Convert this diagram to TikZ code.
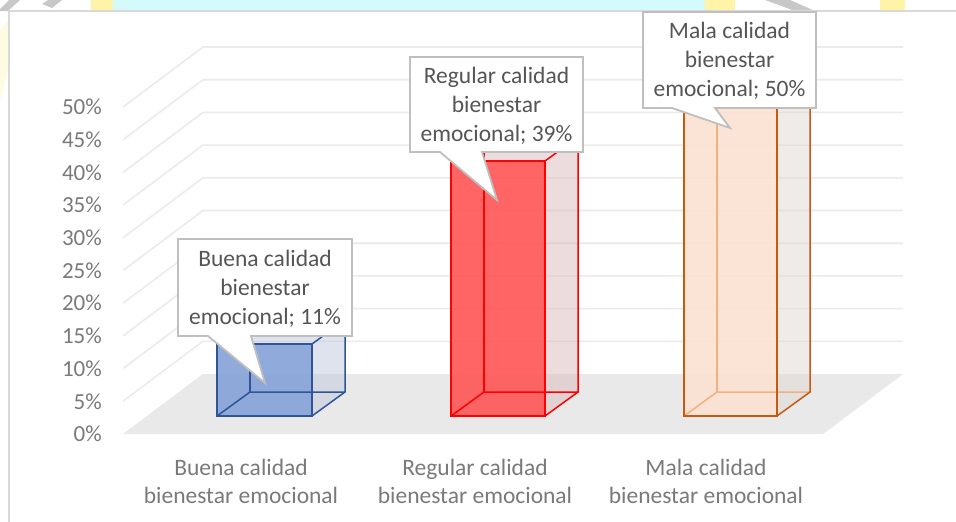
\documentclass[tikz,border=0pt]{standalone}
\usepackage{fontspec}
\setmainfont{Carlito}
\definecolor{bordercol}{HTML}{D9D9D9}
\definecolor{gridcol}{HTML}{EBEBEB}
\definecolor{floorcol}{HTML}{E9E9E9}
\definecolor{axistext}{HTML}{7A7A7A}
\definecolor{calltext}{HTML}{555555}
\definecolor{callborder}{HTML}{BFBFBF}
\definecolor{bandcyan}{HTML}{D4FAFC}
\definecolor{bandyellow}{HTML}{FFF3A8}
\definecolor{paleyellow}{HTML}{FFFBE3}
\definecolor{bandgray}{HTML}{C8C8C8}
\definecolor{blueedge}{HTML}{2F5597}
\definecolor{bluefront}{RGB}{131,161,216}
\definecolor{blueside}{RGB}{193,201,221}
\definecolor{rededge}{HTML}{FF0000}
\definecolor{redfront}{RGB}{255,85,85}
\definecolor{redside}{RGB}{221,187,189}
\definecolor{orangeedge}{HTML}{C55A11}
\definecolor{orangehid}{HTML}{F0B080}
\definecolor{orangefront}{RGB}{251,226,209}
\definecolor{orangeside}{RGB}{225,217,211}
\newcommand{\drawbar}[8]{%
  % #1 xl, #2 xr, #3 h, #4 edge, #5 hidden edge, #6 front, #7 side, #8 name
  \pgfmathsetmacro\yt{416-#3}%
  \pgfmathsetmacro\ybt{392-#3}%
  \pgfmathsetmacro\xlb{#1+33}%
  \pgfmathsetmacro\xrb{#2+33}%
  \fill[#7, fill opacity=0.5] (#2,416) -- (\xrb,392) -- (\xrb,\ybt) -- (#2,\yt) -- cycle;
  \fill[#7, fill opacity=0.5] (#1,\yt) -- (#2,\yt) -- (\xrb,\ybt) -- (\xlb,\ybt) -- cycle;
  \fill[#6, fill opacity=0.9] (#1,416) rectangle (#2,\yt);
  \draw[baredge, #5] (#1,416) -- (\xlb,392) -- (\xrb,392);
  \draw[baredge, #5] (\xlb,392) -- (\xlb,\ybt);
  \draw[baredge, #4] (#1,\yt) rectangle (#2,416);
  \draw[baredge, #4] (#2,416) -- (\xrb,392) -- (\xrb,\ybt) -- (#2,\yt);
  \draw[baredge, #4] (#1,\yt) -- (\xlb,\ybt) -- (\xrb,\ybt);
  \coordinate (#8) at (#1,416);
}
\begin{document}
\begin{tikzpicture}[x=1pt,y=-1pt,
  gridline/.style={draw=gridcol, line width=1.6pt},
  baredge/.style={line width=1.5pt, line join=miter},
  axislabel/.style={text=axistext, font=\fontsize{23}{28}\selectfont, inner sep=0pt},
  catlabel/.style={text=axistext, font=\fontsize{23.5}{28}\selectfont, align=center, inner sep=0pt},
  callbox/.style={fill=white, draw=callborder, line width=1.8pt, line join=miter},
  calllabel/.style={text=calltext, font=\fontsize{23.5}{29}\selectfont, align=center, inner sep=0pt}]
\useasboundingbox (0,0) rectangle (956,522);
\fill[white] (0,0) rectangle (956,522);
% top band
\fill[bandcyan] (113,0) rectangle (705,11);
\fill[bandyellow] (91,0) rectangle (113,11);
\fill[bandyellow] (705,0) rectangle (735,11);
\fill[bandyellow] (880,0) rectangle (905,11);
\fill[bandgray] (0,9) -- (9,0) -- (20,0) -- (8,11) -- (0,11) -- cycle;
\fill[bandgray] (42,4) -- (48,0) -- (62,0) -- (52,8) -- cycle;
\fill[bandgray] (765,0) -- (790,0) -- (815,11) -- (795,11) -- cycle;
\fill[paleyellow] (0,30) -- (8,20) -- (8,70) -- (0,100) -- cycle;
% chart border
\draw[bordercol, line width=1.2pt] (9,522) -- (9,11) -- (956,11);
% floor
\fill[floorcol] (123,434) -- (203,374) -- (903,374) -- (823,434) -- cycle;
% gridlines
\foreach \i in {1,...,10}{
  \pgfmathsetmacro\fy{434-32.7*\i}
  \pgfmathsetmacro\by{374-32.7*\i}
  \draw[gridline] (123,\fy) -- (203,\by) -- (903,\by);
}
% axis labels
\foreach \i in {0,...,10}{
  \pgfmathtruncatemacro\v{5*\i}
  \pgfmathsetmacro\fy{434-32.7*\i}
  \node[axislabel, anchor=east] (ax\i) at (102,\fy) {\v\%};
}
% bars
\drawbar{217}{312}{72}{draw=blueedge}{draw=blueedge}{bluefront}{blueside}{barA}
\drawbar{451}{545}{255}{draw=rededge}{draw=rededge}{redfront}{redside}{barB}
\drawbar{684}{777}{327}{draw=orangeedge}{draw=orangehid}{orangefront}{orangeside}{barC}
% category labels
\node[catlabel] (catA) at (241,481) {Buena calidad\\bienestar emocional};
\node[catlabel] (catB) at (475,481) {Regular calidad\\bienestar emocional};
\node[catlabel] (catC) at (706,481) {Mala calidad\\bienestar emocional};
% callouts
\draw[callbox] (178,239) -- (352,239) -- (352,336) -- (251,336) -- (265,383) -- (208,336) -- (178,336) -- cycle;
\node[calllabel] (lblA) at (265,289) {Buena calidad\\bienestar\\emocional; 11\%};
\draw[callbox] (410,57) -- (583,57) -- (583,152) -- (482,152) -- (497,200) -- (440,152) -- (410,152) -- cycle;
\node[calllabel] (lblB) at (496.5,106) {Regular calidad\\bienestar\\emocional; 39\%};
\draw[callbox] (643,12) -- (816,12) -- (816,108) -- (715,108) -- (730,128) -- (672,108) -- (643,108) -- cycle;
\node[calllabel] (lblC) at (729.5,61) {Mala calidad\\bienestar\\emocional; 50\%};
\end{tikzpicture}
\end{document}
